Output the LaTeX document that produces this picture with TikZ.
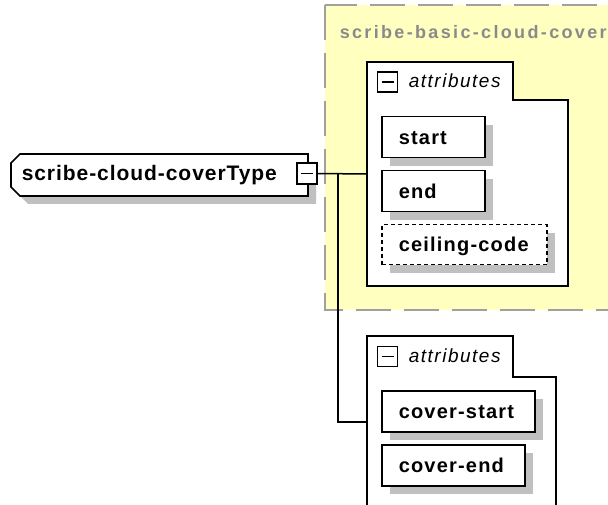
\documentclass[tikz,border=0pt]{standalone}
\usepackage{fontspec}
\setmainfont{Liberation Sans}
\newfontfamily\topfont[LetterSpace=4.5]{Liberation Sans}
\newfontfamily\elfont[LetterSpace=6]{Liberation Sans}
\newfontfamily\attrfont[LetterSpace=8]{Liberation Sans}
\newfontfamily\grpfont[LetterSpace=13]{Liberation Sans}
\usetikzlibrary{shadows}
\definecolor{grpfill}{HTML}{FFFFC0}
\definecolor{grpline}{HTML}{A0A0A0}
\definecolor{grptext}{HTML}{8A8A8A}
\definecolor{shadowgray}{HTML}{C0C0C0}
\exhyphenpenalty=10000
\hyphenpenalty=10000
\begin{document}
\begin{tikzpicture}[x=1pt,y=-1pt,line width=1.5pt,
  elem/.style={draw, fill=white, anchor=north west, inner xsep=17pt, inner ysep=0pt,
    align=left, text width=#1, minimum height=41pt, text height=14pt, text depth=0pt,
    font=\elfont\bfseries\fontsize{20pt}{24pt}\selectfont,
    drop shadow={shadow xshift=8pt, shadow yshift=-8pt, fill=shadowgray, opacity=1}},
  optelem/.style={elem=#1, dash pattern=on 4pt off 3pt, minimum height=40pt},
  minusicon/.style={draw, fill=white, minimum width=20pt, minimum height=20pt, inner sep=0pt,
    line width=1.3pt,
    path picture={\draw[line width=1.3pt] ([xshift=-6pt]path picture bounding box.center) -- ([xshift=6pt]path picture bounding box.center);}},
  attrlabel/.style={anchor=base west, inner sep=0pt,
    font=\attrfont\itshape\fontsize{19pt}{23pt}\selectfont},
  container/.style={draw, fill=white, line width=1.5pt},
  conn/.style={draw, line width=1.5pt},
  grp/.style={fill=grpfill, draw=grpline, line width=2pt, dash pattern=on 35pt off 13pt}
]
\clip (0,0) rectangle (608,505);
% group
\path[grp] (325,5) rectangle (660,310);
\node[anchor=base west, inner sep=0pt, text=grptext,
  font=\grpfont\bfseries\fontsize{18pt}{22pt}\selectfont] (glabel) at (339,39) {scribe-basic-cloud-cover};

% containers
\path[container] (367,62) -- (513,62) -- (513,100) -- (568,100) -- (568,286) -- (367,286) -- cycle;
\node[minusicon] (m1) at (387.5,82) {};
\node[attrlabel] (at1) at (408,88) {attributes};

\path[container] (367,336) -- (513,336) -- (513,377) -- (556,377) -- (556,530) -- (367,530) -- cycle;
\node[minusicon] (m2) at (387.5,356.5) {};
\node[attrlabel] (at2) at (408,362) {attributes};

% elements
\node[elem=69pt] (start) at (381,116) {start};
\node[elem=69pt] (end) at (381,170) {end};
\node[optelem=131pt] (ceil) at (381,224) {ceiling-code};
\node[elem=119pt] (cstart) at (381,390) {cover-start};
\node[elem=109pt] (cend) at (381,444) {cover-end};

% main node
\fill[shadowgray] (28,162) -- (316,162) -- (316,204) -- (28,204) -- (19,195) -- (19,171) -- cycle;
\path[draw, fill=white, line width=1.6pt] (20,154) -- (308,154) -- (308,196) -- (20,196) -- (11,187) -- (11,163) -- cycle;
\node[anchor=base west, inner sep=0pt,
  font=\topfont\bfseries\fontsize{21pt}{25pt}\selectfont] (main) at (21,181) {scribe-cloud-coverType};
\node[minusicon, minimum height=21pt, line width=1.5pt] (mb) at (307,173.5) {};

% connectors
\coordinate (j) at (338,174);
\coordinate (c1) at (367,174);
\coordinate (c2) at (367,422);
\draw[conn] (mb.east) -- (c1);
\draw[conn] (j) |- (c2);
\end{tikzpicture}
\end{document}
